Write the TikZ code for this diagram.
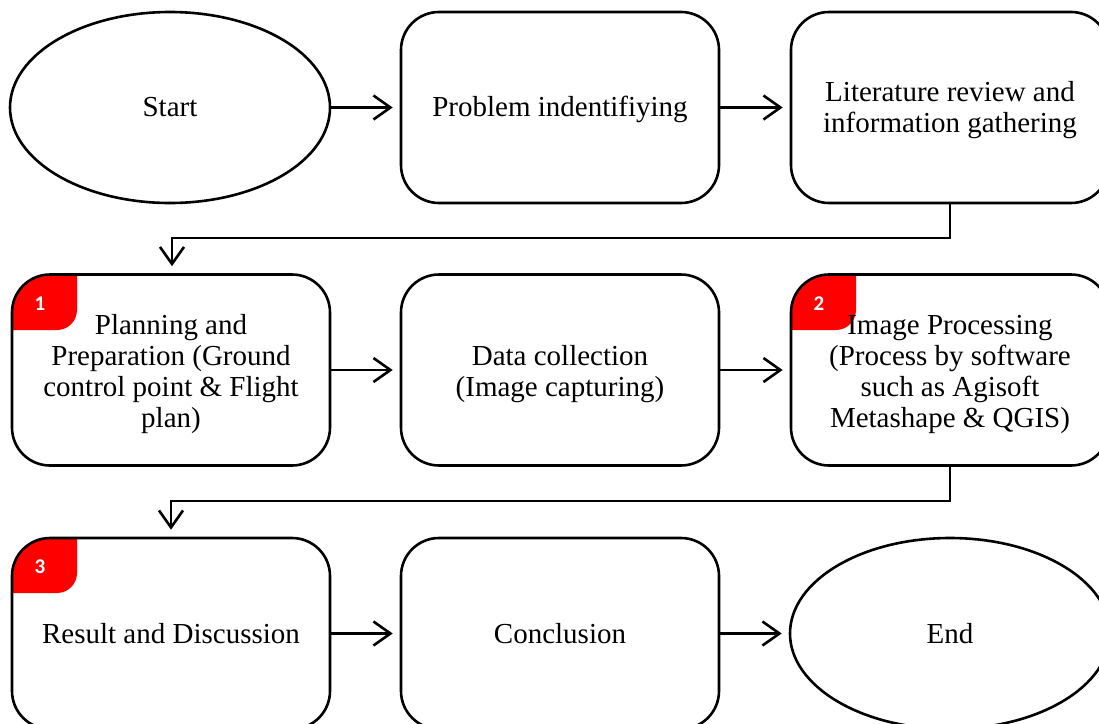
\documentclass[tikz,border=0pt]{standalone}
\usepackage{fontspec}
\setmainfont{Liberation Serif}
\newfontfamily\badgefont{Carlito}
\usetikzlibrary{shapes.geometric,arrows.meta}
\setlength\tabcolsep{0pt}
\newcommand\tx[2]{\raisebox{-#1}[\height][\depth]{\begin{tabular}{c}#2\end{tabular}}}
\tikzset{
  box/.style={draw, line width=2.6pt, rounded corners=38pt, minimum width=318pt, minimum height=191pt, inner sep=0pt, align=center, font=\fontsize{29}{31}\selectfont},
  oval/.style={draw, line width=2.6pt, ellipse, minimum width=320pt, minimum height=191pt, inner sep=0pt, align=center, font=\fontsize{29}{31}\selectfont},
  conn/.style={line width=2.6pt, -{Straight Barb[length=17pt,width=24pt,line width=2.6pt]}, shorten >=7pt},
  badgetext/.style={text=white, font=\badgefont\bfseries\fontsize{21}{21}\selectfont, inner sep=0pt}
}
\newcommand\mybadge[5]{% x1 y1 x2 y2 number
  \begin{scope}
    \clip[rounded corners=38pt] (#1,#2) rectangle (#3,#4);
    \fill[red, rounded corners=20pt] (#1-40,#2-40) rectangle (#1+65,#2+55);
  \end{scope}
  \node[badgetext] (badge#5) at (#1+28,#2+29) {#5};
}
\begin{document}
\begin{tikzpicture}[x=1pt,y=-1pt]
\useasboundingbox (0,0) rectangle (1099,723);
\clip (0,0) rectangle (1099,723);
\fill[white] (0,0) rectangle (1099,723);
% badges
\mybadge{12}{275}{330}{465}{1}
\mybadge{791}{275}{1109}{465}{2}
\mybadge{12}{538}{330}{729}{3}
% row 1
\node[oval] (start) at (170,107.5) {Start};
\node[box] (prob) at (560,107.5) {\tx{3pt}{Problem indentifiying}};
\node[box] (lit) at (950,107.5) {\tx{3pt}{Literature review and\\information gathering}};
% row 2
\node[box] (plan) at (171,370) {\tx{4.5pt}{Planning and\\Preparation (Ground\\control point \& Flight\\plan)}};
\node[box] (data) at (560,370) {\tx{4.5pt}{Data collection\\(Image capturing)}};
\node[box] (proc) at (950,370) {\tx{4.5pt}{Image Processing\\(Process by software\\such as Agisoft\\Metashape \& QGIS)}};
% row 3
\node[box] (res) at (171,633.5) {Result and Discussion};
\node[box] (conc) at (560,633.5) {Conclusion};
\node[oval] (end) at (950,633.5) {End};
% connectors
\draw[conn] (start) -- (prob);
\draw[conn] (prob) -- (lit);
\draw[conn] (lit.south) |- (560,238) -| ([xshift=1pt]plan.north);
\draw[conn] (plan) -- (data);
\draw[conn] (data) -- (proc);
\draw[conn] (proc.south) |- (560,501) -| (res.north);
\draw[conn] (res) -- (conc);
\draw[conn] (conc) -- (end);
\end{tikzpicture}
\end{document}
